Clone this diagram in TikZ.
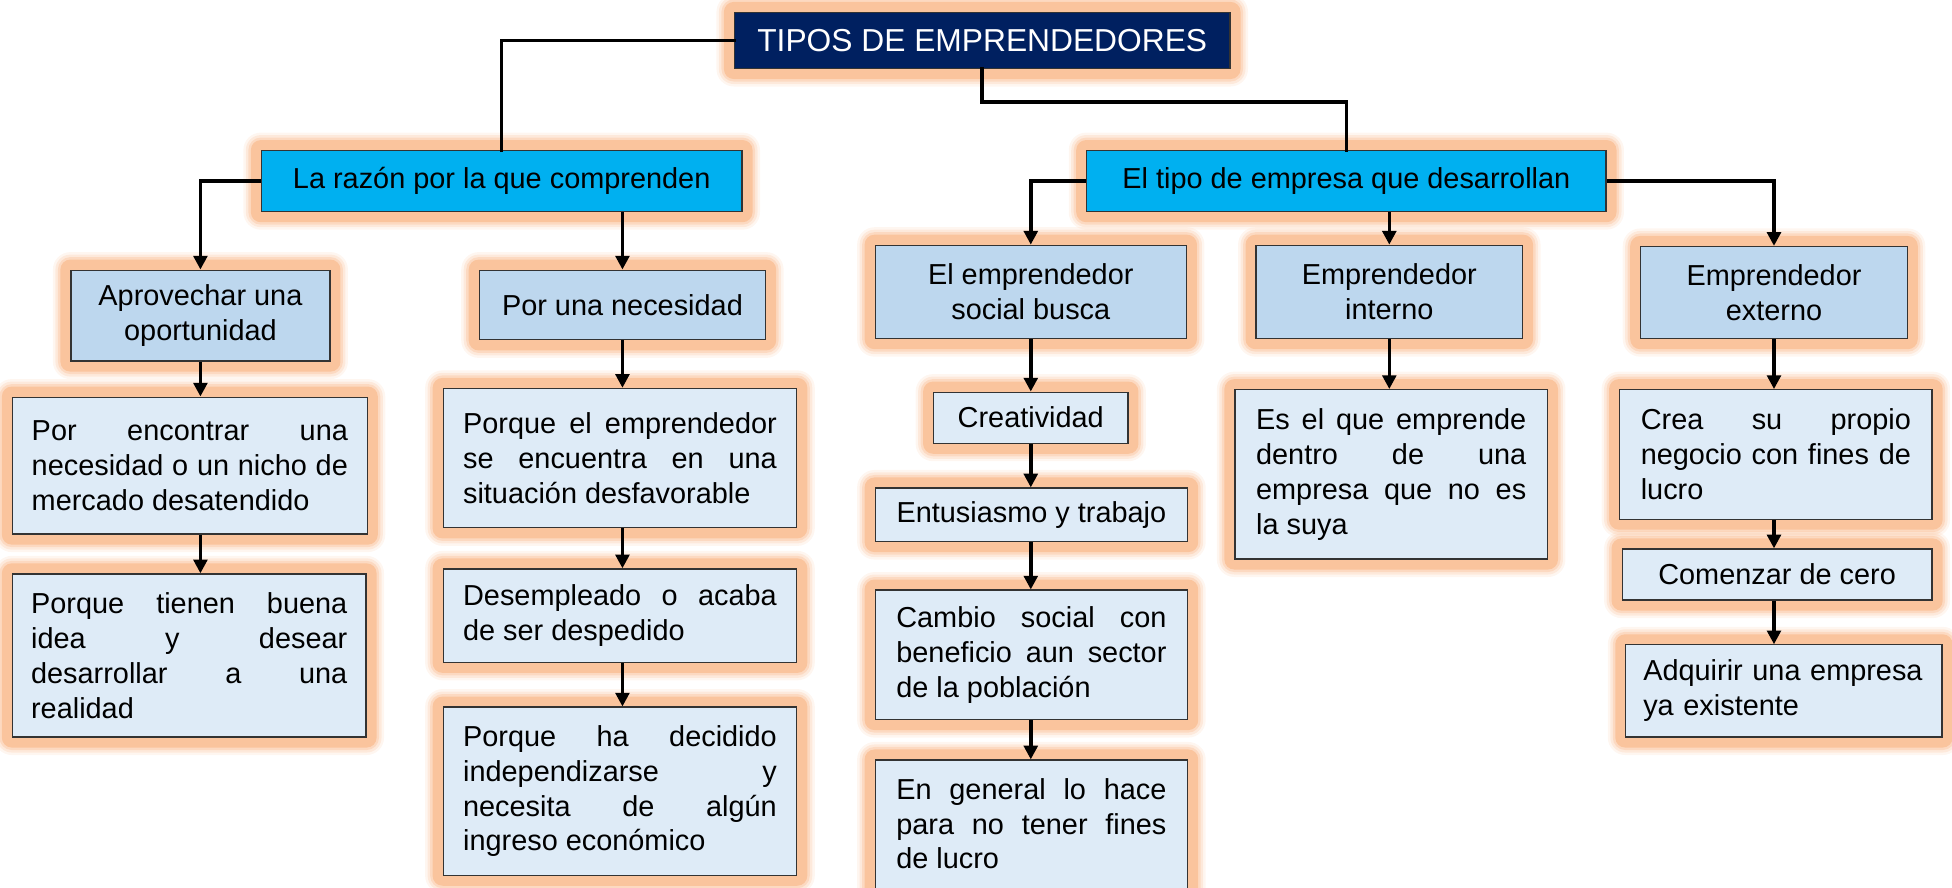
\documentclass[tikz,border=0pt]{standalone}
\usepackage{fontspec}
\setmainfont{Liberation Sans}
\usetikzlibrary{arrows.meta}
\definecolor{navy}{HTML}{002060}
\definecolor{cyanbox}{HTML}{00B0F0}
\definecolor{midbox}{HTML}{BDD7EE}
\definecolor{lightbox}{HTML}{DEEBF7}
\definecolor{glowc}{HTML}{F9B585}
\pgfdeclarelayer{background}
\pgfsetlayers{background,main}
\tolerance=10000
\hbadness=10000
\hyphenpenalty=10000
\exhyphenpenalty=10000
\begin{document}
\begin{tikzpicture}[x=1pt,y=-1pt,
  bodyfont/.style={font=\fontsize{23.2}{28}\selectfont},
  box/.style={draw=black!80, line width=1pt, inner sep=0pt, bodyfont},
  top/.style={box, fill=navy, text=white, font=\fontsize{25.5}{30}\selectfont},
  lvl1/.style={box, fill=cyanbox},
  lvl2/.style={box, fill=midbox, align=center},
  leaf/.style={box, fill=lightbox},
  just/.style={leaf, align=justify},
  conn/.style={line width=2.8pt, line cap=rect},
  arr/.style={line width=2.8pt, -{Triangle[length=11pt,width=11pt]}},
]
\useasboundingbox (0,0) rectangle (1568,713);

% top
\node[top, minimum width=398pt, minimum height=45pt] (tipos) at (789,32.5) {TIPOS DE EMPRENDEDORES};
\node[lvl1, minimum width=386pt, minimum height=49pt] (razon) at (403,145.5) {La razón por la que comprenden};
\node[lvl1, minimum width=417pt, minimum height=49pt] (tipo) at (1081.5,145.5) {El tipo de empresa que desarrollan};

% left branch
\node[lvl2, minimum width=208pt, minimum height=73pt] (aprov) at (161,253.5) {Aprovechar una\\oportunidad};
\node[lvl2, minimum width=230pt, minimum height=56pt] (nec) at (500,245) {Por una necesidad};
\node[just, minimum width=285pt, minimum height=110pt, text width=254pt] (enc) at (152.5,374)
  {Por encontrar una\linebreak necesidad o un nicho de\linebreak mercado desatendido};
\node[just, minimum width=284pt, minimum height=131pt, text width=254pt] (tien) at (152,526.5)
  {Porque tienen buena\linebreak idea y desear\linebreak desarrollar a una\linebreak realidad};
\node[just, minimum width=284pt, minimum height=112pt, text width=252pt] (empr) at (498,368)
  {Porque el emprendedor\linebreak se encuentra en una\linebreak situación desfavorable};
\node[just, minimum width=284pt, minimum height=75pt, text width=252pt] (desem) at (498,494.5)
  {Desempleado o acaba\linebreak de ser despedido};
\node[just, minimum width=284pt, minimum height=135pt, text width=252pt] (dec) at (498,635.5)
  {Porque ha decidido\linebreak independizarse y\linebreak necesita de algún\linebreak ingreso económico};

% right branch
\node[lvl2, minimum width=250pt, minimum height=75pt] (social) at (828,234.5) {El emprendedor\\social busca};
\node[lvl2, minimum width=214pt, minimum height=75pt] (interno) at (1116,234.5) {Emprendedor\\interno};
\node[lvl2, minimum width=214pt, minimum height=74pt] (externo) at (1425,235) {Emprendedor\\externo};

\node[leaf, minimum width=156pt, minimum height=41pt] (creat) at (828,335.5) {Creatividad};
\node[leaf, minimum width=251pt, minimum height=43pt] (entus) at (828.5,413.5) {Entusiasmo y trabajo};
\node[just, minimum width=251pt, minimum height=104pt, text width=217pt] (cambio) at (828.5,526)
  {Cambio social con\linebreak beneficio aun sector\linebreak de la población};
\node[leaf, minimum width=251pt, minimum height=140pt, anchor=north] (general) at (828.5,610) {};
\node[bodyfont, align=justify, text width=217pt, inner sep=0pt, anchor=north] (generaltext)
  at ([yshift=-15pt]general.north)
  {En general lo hace\linebreak para no tener fines\linebreak de lucro};

\node[just, minimum width=251pt, minimum height=136pt, text width=217pt] (es) at (1117.5,381)
  {Es el que emprende\linebreak dentro de una\linebreak empresa que no es\linebreak la suya};

\node[just, minimum width=251pt, minimum height=104pt, text width=217pt] (crea) at (1426.5,365)
  {Crea su propio\linebreak negocio con fines de\linebreak lucro};
\node[leaf, minimum width=249pt, minimum height=41pt] (cero) at (1427.5,461.5) {Comenzar de cero};
\node[leaf, align=left, minimum width=254pt, minimum height=74pt, text width=226pt] (adq) at (1433,555)
  {Adquirir una empresa\\ya existente};

% glow
\begin{pgfonlayer}{background}
\foreach \n in {tipos,razon,tipo,aprov,nec,enc,tien,empr,desem,dec,social,interno,externo,creat,entus,cambio,general,es,crea,cero,adq}{
  \foreach \r/\o in {14/0.12,12/0.2,10/0.3,8/0.6}{
    \fill[glowc, opacity=\o, rounded corners=\r pt]
      ([xshift=-\r pt, yshift=\r pt]\n.north west) rectangle ([xshift=\r pt, yshift=-\r pt]\n.south east);
  }
}
\end{pgfonlayer}

% connectors
\coordinate (tj) at (789,82);
\draw[conn] (tipos.west) -| (razon.north);
\draw[conn] (tipos.south) -- (tj) -| (tipo.north);

\draw[arr] (razon.west) -| (aprov.north);
\draw[arr] (nec.north |- razon.south) -- (nec.north);
\draw[arr] (aprov.south) -- (aprov.south |- enc.north);
\draw[arr] (aprov.south |- enc.south) -- (aprov.south |- tien.north);
\draw[arr] (nec.south) -- (nec.south |- empr.north);
\draw[arr] (nec.south |- empr.south) -- (nec.south |- desem.north);
\draw[arr] (nec.south |- desem.south) -- (nec.south |- dec.north);

\draw[arr] (tipo.west) -| (social.north);
\draw[arr] (interno.north |- tipo.south) -- (interno.north);
\draw[arr] (tipo.east) -| (externo.north);

\draw[arr] (social.south) -- (creat.north);
\draw[arr] (creat.south) -- (creat.south |- entus.north);
\draw[arr] (creat.south |- entus.south) -- (creat.south |- cambio.north);
\draw[arr] (creat.south |- cambio.south) -- (creat.south |- general.north);

\draw[arr] (interno.south) -- (interno.south |- es.north);

\draw[arr] (externo.south) -- (externo.south |- crea.north);
\draw[arr] (externo.south |- crea.south) -- (externo.south |- cero.north);
\draw[arr] (externo.south |- cero.south) -- (externo.south |- adq.north);
\end{tikzpicture}
\end{document}
